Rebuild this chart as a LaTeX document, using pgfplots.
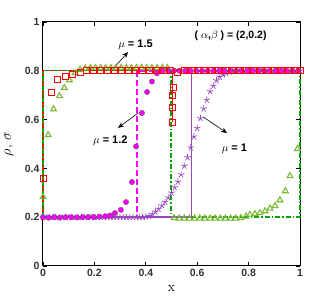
\documentclass[border=0pt]{standalone}
\usepackage{pgfplots}
\pgfplotsset{compat=1.18}
\usepackage{fontspec}
\setsansfont{Liberation Sans}
\usetikzlibrary{arrows.meta}
\definecolor{tri}{RGB}{120,185,50}
\definecolor{dgreen}{RGB}{0,165,0}
\definecolor{purp}{RGB}{150,70,190}
\definecolor{mag}{RGB}{255,0,255}
\begin{document}
\begin{tikzpicture}
\useasboundingbox (-43pt,-33pt) rectangle (289pt,266pt);
\begin{axis}[at={(0,0)}, anchor=south west,
  width=257pt, height=244pt, scale only axis,
  xmin=0, xmax=1, ymin=0, ymax=1,
  xtick={0,0.2,0.4,0.6,0.8,1}, ytick={0,0.2,0.4,0.6,0.8,1},
  xticklabels={0,0.2,0.4,0.6,0.8,1}, yticklabels={0,0.2,0.4,0.6,0.8,1},
  tick align=inside, major tick length=4pt,
  tick style={black, line width=0.6pt},
  axis line style={black, line width=1pt},
  tick label style={font=\sffamily\bfseries\fontsize{10.5}{11}\selectfont, text=black!80},
  xlabel={\fontsize{14}{14}\selectfont\rmfamily x},
  ylabel={\fontsize{14}{14}\selectfont $\rho$, $\sigma$},
  xlabel style={at={(axis description cs:0.5,-0.065)}, anchor=north},
  ylabel style={at={(axis description cs:-0.10,0.5)}, anchor=south},
  clip=false]
% markers
\addplot[only marks, mark=triangle, mark size=3.3pt, mark options={tri, line width=1.1pt}] coordinates {
(0,0.283) (0.02,0.537) (0.041,0.643) (0.064,0.697) (0.083,0.73) (0.103,0.762) (0.125,0.791) (0.144,0.805)
(0.164,0.81) (0.184,0.812) (0.204,0.812) (0.224,0.812) (0.244,0.812) (0.264,0.812) (0.284,0.812) (0.304,0.812)
(0.324,0.812) (0.344,0.812) (0.364,0.812) (0.384,0.812) (0.404,0.812) (0.424,0.812) (0.444,0.812) (0.464,0.812) (0.484,0.812)
(0.51,0.197) (0.53,0.195) (0.55,0.195) (0.57,0.195) (0.59,0.195) (0.61,0.195) (0.63,0.195) (0.65,0.195)
(0.67,0.195) (0.69,0.195) (0.71,0.195) (0.73,0.195) (0.75,0.195) (0.77,0.197) (0.79,0.203) (0.805,0.211)
(0.825,0.213) (0.844,0.217) (0.864,0.225) (0.883,0.236) (0.903,0.246) (0.922,0.27) (0.943,0.307) (0.961,0.369) (0.99,0.48)};
\addplot[only marks, mark=star, mark size=3.4pt, mark options={purp, line width=0.7pt}] coordinates {
(0,0.2) (0.0125,0.2) (0.025,0.2) (0.0375,0.2) (0.05,0.2) (0.0625,0.2) (0.075,0.2) (0.0875,0.2) (0.1,0.2)
(0.1125,0.2) (0.125,0.2) (0.1375,0.2) (0.15,0.2) (0.1625,0.2) (0.175,0.2) (0.1875,0.2) (0.2,0.2)
(0.2125,0.2) (0.225,0.2) (0.2375,0.2) (0.25,0.2) (0.2625,0.2) (0.275,0.2) (0.2875,0.2) (0.3,0.2)
(0.3125,0.2) (0.325,0.2) (0.3375,0.2) (0.35,0.2) (0.3625,0.2) (0.375,0.2) (0.3875,0.2) (0.4,0.202)
(0.4125,0.205) (0.425,0.212) (0.4375,0.222) (0.45,0.234) (0.4625,0.248) (0.475,0.262) (0.4875,0.28)
(0.5,0.3) (0.5125,0.322) (0.525,0.345) (0.5375,0.375) (0.55,0.41) (0.5625,0.445) (0.575,0.485)
(0.5875,0.53) (0.6,0.565) (0.6125,0.605) (0.625,0.645) (0.6375,0.68) (0.65,0.715) (0.6625,0.738)
(0.675,0.76) (0.6875,0.775) (0.7,0.785) (0.7125,0.79) (0.725,0.795) (0.7375,0.798) (0.75,0.8)
(0.7625,0.8) (0.775,0.8) (0.7875,0.8) (0.8,0.8) (0.8125,0.8) (0.825,0.8) (0.8375,0.8) (0.85,0.8)
(0.8625,0.8) (0.875,0.8) (0.8875,0.8) (0.9,0.8) (0.9125,0.8) (0.925,0.8) (0.9375,0.8) (0.95,0.8)
(0.9625,0.8) (0.975,0.8) (0.9875,0.8) (1,0.8)};
\addplot[only marks, mark=*, mark size=2.7pt, mark options={fill=mag, draw=black!70, line width=0.3pt}] coordinates {
(0,0.2) (0.022,0.198) (0.044,0.2) (0.066,0.198) (0.088,0.2) (0.11,0.2) (0.132,0.199) (0.154,0.2)
(0.176,0.201) (0.198,0.201) (0.22,0.202) (0.242,0.204) (0.262,0.207) (0.28,0.217) (0.303,0.23) (0.323,0.262)
(0.346,0.344) (0.362,0.49) (0.385,0.627) (0.405,0.713) (0.424,0.756) (0.443,0.79) (0.465,0.8) (0.487,0.8)
(0.509,0.8) (0.531,0.8) (0.553,0.8) (0.575,0.8) (0.597,0.8) (0.619,0.8) (0.641,0.8) (0.663,0.8) (0.685,0.8)
(0.707,0.8) (0.729,0.8) (0.751,0.8) (0.773,0.8) (0.795,0.8) (0.817,0.8) (0.839,0.8) (0.861,0.8) (0.883,0.8)
(0.905,0.8) (0.927,0.8) (0.949,0.8) (0.971,0.8) (0.993,0.8)};
\addplot[only marks, mark=square, mark size=3pt, mark options={red, line width=0.9pt}] coordinates {
(0,0.357) (0.031,0.713) (0.058,0.766) (0.086,0.775) (0.116,0.787) (0.144,0.795) (0.171,0.8) (0.198,0.8)
(0.225,0.8) (0.252,0.8) (0.279,0.8) (0.306,0.8) (0.333,0.8) (0.36,0.8) (0.387,0.8) (0.414,0.8) (0.441,0.8)
(0.468,0.8) (0.495,0.8) (0.506,0.73) (0.505,0.70) (0.505,0.65) (0.505,0.59) (0.522,0.795) (0.549,0.8) (0.576,0.8)
(0.603,0.8) (0.63,0.8) (0.657,0.8) (0.684,0.8) (0.711,0.8) (0.738,0.8) (0.765,0.8) (0.792,0.8) (0.819,0.8)
(0.846,0.8) (0.873,0.8) (0.9,0.8) (0.927,0.8) (0.954,0.8) (0.981,0.8) (1,0.8)};
% lines
\addplot[red, line width=1.3pt] coordinates {(0,0.2) (0,0.8) (1,0.8)};
\addplot[dgreen, line width=1.4pt, dash pattern=on 5pt off 2pt on 1.5pt off 2pt] coordinates {(0,0.2) (0,0.8) (0.498,0.8) (0.498,0.2) (1,0.2) (1,0.8)};
\addplot[red, line width=1.3pt] coordinates {(0.505,0.8) (0.505,0.59)};
\addplot[mag, line width=1.6pt, dash pattern=on 6pt off 3pt] coordinates {(0,0.2) (0.365,0.2) (0.365,0.8) (1,0.8)};
\addplot[purp, line width=1.4pt] coordinates {(0,0.2) (0.578,0.2) (0.578,0.8) (1,0.8)};
% annotations
\draw[-{Stealth[length=6pt,width=5pt]}, black, line width=0.6pt] (axis cs:0.268,0.803) -- (axis cs:0.331,0.877);
\draw[-{Stealth[length=6pt,width=5pt]}, black, line width=0.6pt] (axis cs:0.370,0.627) -- (axis cs:0.292,0.566);
\draw[-{Stealth[length=6pt,width=5pt]}, black, line width=0.6pt] (axis cs:0.623,0.611) -- (axis cs:0.716,0.545);
\node[font=\sffamily\bfseries\fontsize{11}{12}\selectfont] at (axis cs:0.36,0.906) {$\mu$ = 1.5};
\node[font=\sffamily\bfseries\fontsize{11}{12}\selectfont] at (axis cs:0.262,0.512) {$\mu$ = 1.2};
\node[font=\sffamily\bfseries\fontsize{11}{12}\selectfont] at (axis cs:0.745,0.48) {$\mu$ = 1};
\node[font=\sffamily\bfseries\fontsize{10.5}{11}\selectfont] at (axis cs:0.73,0.943) {( $\alpha$,$\beta$ ) = (2,0.2)};
\end{axis}
\end{tikzpicture}
\end{document}
